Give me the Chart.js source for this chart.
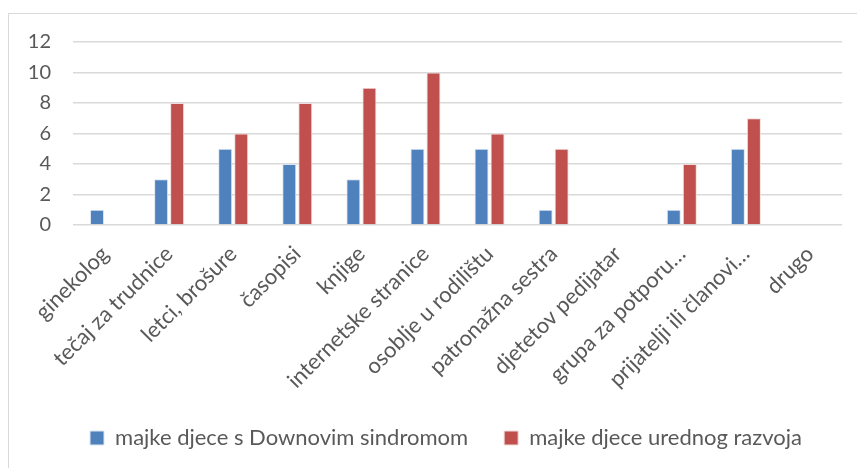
<!DOCTYPE html>
<html>
<head>
<meta charset="utf-8">
<script src="https://cdn.jsdelivr.net/npm/chart.js@4"></script>
<style>
  html, body { margin: 0; padding: 0; background: #fff; overflow: hidden; }
  #wrap { position: relative; width: 857px; height: 468px; }
  #frame {
    position: absolute; left: 8px; top: 13px; width: 860px; height: 470px;
    border: 1px solid #d9d9d9; box-sizing: border-box;
  }
  canvas { position: absolute; left: 0; top: 0; }
</style>
</head>
<body>
<div id="wrap">
  <div id="frame"></div>
  <canvas id="chart" width="857" height="468"></canvas>
</div>
<script>
const categories = [
  "ginekolog",
  "tečaj za trudnice",
  "letci, brošure",
  "časopisi",
  "knjige",
  "internetske stranice",
  "osoblje u rodilištu",
  "patronažna sestra",
  "djetetov pedijatar",
  "grupa za potporu…",
  "prijatelji ili članovi…",
  "drugo",
];

const downSyndrome = [1, 3, 5, 4, 3, 5, 5, 1, 0, 1, 5, 0];
const typicalDevelopment = [0, 8, 6, 8, 9, 10, 6, 5, 0, 4, 7, 0];

const seriesNames = [
  "majke djece s Downovim sindromom",
  "majke djece urednog razvoja",
];

const textColor = "#595959";
const fontFamily = "Lato, 'Open Sans', sans-serif";

// labels may spill outside their axis box, like in the original
const noLabelClip = () => null;

new Chart(document.getElementById("chart"), {
  type: "bar",
  data: {
    labels: categories,
    datasets: [
      {
        label: seriesNames[0],
        data: downSyndrome,
        backgroundColor: "#4f81bd",
        borderColor: "#dce6f2",
        borderWidth: 1,
      },
      {
        label: seriesNames[1],
        data: typicalDevelopment,
        backgroundColor: "#c0504d",
        borderColor: "#f2dcdb",
        borderWidth: 1,
      },
    ],
  },
  options: {
    responsive: false,
    animation: false,
    categoryPercentage: 0.5,
    barPercentage: 0.875,
    layout: {
      padding: { left: 50, right: 15, top: 42, bottom: 9 },
    },
    plugins: {
      legend: {
        position: "bottom",
        labels: {
          color: textColor,
          font: { family: fontFamily, size: 22 },
          boxWidth: 14,
          boxHeight: 14,
          padding: 36,
        },
      },
      tooltip: { enabled: false },
    },
    scales: {
      x: {
        grid: { display: false },
        border: { display: false },
        ticks: {
          color: textColor,
          font: { family: fontFamily, size: 22 },
          minRotation: 45,
          maxRotation: 45,
          autoSkip: false,
          padding: 8,
        },
        afterFit: (scale) => {
          scale.height = 166;
          scale.paddingLeft = 0;
          scale.paddingRight = 0;
          scale._computeLabelArea = noLabelClip;
        },
      },
      y: {
        min: 0,
        max: 12,
        border: { display: false },
        grid: { color: "#d9d9d9", lineWidth: 1.5, drawTicks: false },
        ticks: {
          stepSize: 2,
          color: textColor,
          font: { family: fontFamily, size: 20 },
          padding: 22,
        },
        afterFit: (scale) => {
          scale.width = 23;
          scale.paddingTop = 0;
          scale.paddingBottom = 0;
          scale._computeLabelArea = noLabelClip;
        },
      },
    },
  },
});
</script>
</body>
</html>
